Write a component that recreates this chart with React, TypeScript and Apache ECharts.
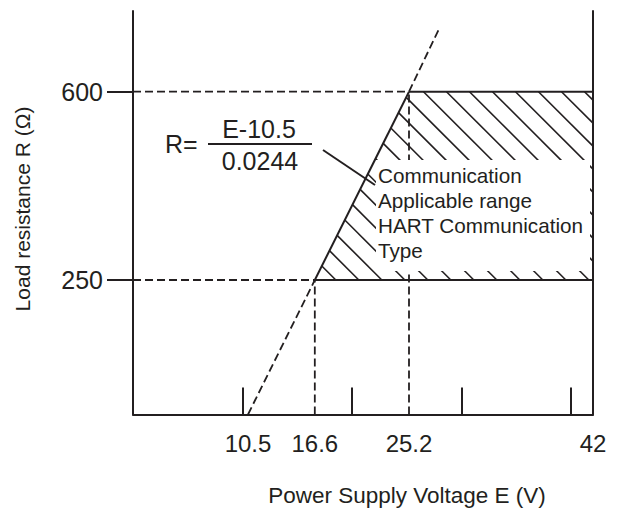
import React, { useEffect, useRef } from 'react';
import * as echarts from 'echarts';

const FONT = '"Liberation Sans", Arial, Helvetica, sans-serif';
const INK = '#231f20';

// axis ranges and tick marks
const xRange = [0, 42];
const yRange = [0, 750];
const xTickValues = [10, 20, 30, 40];
const xLabelValues = [10.5, 16.6, 25.2, 42];
const yTickValues = [250, 600];
const yLabelValues = [250, 600];

// R = (E - 10.5) / 0.0244 line, split into dashed / solid parts
const formulaLower = [[10.5, 0], [16.6, 250]];
const formulaSolid = [[16.6, 250], [25.2, 600]];
const formulaUpper = [[25.2, 600], [27.9, 715]];

// guide lines
const guide250H = [[0, 250], [16.6, 250]];
const guide600H = [[0, 600], [25.2, 600]];
const guide166V = [[16.6, 0], [16.6, 250]];
const guide252V = [[25.2, 0], [25.2, 600]];

// applicable range boundaries
const rangeBottom = [[16.6, 250], [42, 250]];
const rangeTop = [[25.2, 600], [42, 600]];
const rangeArea = [[16.6, 250], [25.2, 600], [42, 600], [42, 250]];

const annotationLines = ['Communication', 'Applicable range', 'HART Communication', 'Type'];

function lineSeries(data: number[][], dashed: boolean, width = 2) {
  return {
    type: 'line',
    data,
    showSymbol: false,
    symbol: 'none',
    silent: true,
    lineStyle: { color: INK, width, type: dashed ? [8, 4] : 'solid' },
    z: 3,
  };
}

export default function App() {
  const ref = useRef<HTMLDivElement>(null);
  useEffect(() => {
    if (!ref.current) return;
    const chart = echarts.init(ref.current, undefined, { renderer: 'svg' });
    const option: any = {
      animation: false,
      backgroundColor: '#ffffff',
      grid: { left: 133, top: 11, width: 460, height: 403.5, outerBoundsMode: 'none' },
      xAxis: {
        type: 'value',
        min: xRange[0],
        max: xRange[1],
        axisLine: { show: true, lineStyle: { color: INK, width: 2 } },
        axisTick: { show: true, inside: true, length: 27, customValues: xTickValues, lineStyle: { color: INK, width: 2 } },
        axisLabel: { customValues: xLabelValues, fontSize: 24, color: INK, fontFamily: FONT, margin: 17 },
        splitLine: { show: false },
      },
      yAxis: [
        {
          type: 'value',
          min: yRange[0],
          max: yRange[1],
          axisLine: { show: true, lineStyle: { color: INK, width: 2 } },
          axisTick: { show: true, inside: false, length: 26, customValues: yTickValues, lineStyle: { color: INK, width: 2 } },
          axisLabel: { customValues: yLabelValues, fontSize: 25, color: INK, fontFamily: FONT, margin: 30 },
          splitLine: { show: false },
        },
        {
          type: 'value',
          position: 'right',
          min: yRange[0],
          max: yRange[1],
          axisLine: { show: true, lineStyle: { color: INK, width: 2 } },
          axisTick: { show: false },
          axisLabel: { show: false },
          splitLine: { show: false },
        },
      ],
      series: [
        {
          type: 'custom',
          silent: true,
          z: 2,
          data: [rangeArea[0]],
          renderItem: (_params: any, api: any) => {
            const pts = rangeArea.map((p) => api.coord(p));
            const step = 23;
            const c0 = pts[0][0] - pts[0][1] + 21;
            const cs = pts.map((p) => p[0] - p[1]);
            const cmin = Math.min(...cs);
            const cmax = Math.max(...cs);
            const children: any[] = [];
            const k0 = Math.ceil((cmin - c0) / step);
            for (let c = c0 + k0 * step; c < cmax; c += step) {
              const hits: number[][] = [];
              for (let i = 0; i < pts.length; i++) {
                const P = pts[i];
                const Q = pts[(i + 1) % pts.length];
                const fP = P[0] - P[1] - c;
                const fQ = Q[0] - Q[1] - c;
                if ((fP <= 0 && fQ >= 0) || (fP >= 0 && fQ <= 0)) {
                  if (fP === fQ) continue;
                  const t = fP / (fP - fQ);
                  hits.push([P[0] + t * (Q[0] - P[0]), P[1] + t * (Q[1] - P[1])]);
                }
              }
              if (hits.length >= 2) {
                hits.sort((a, b) => a[1] - b[1]);
                const a = hits[0];
                const b = hits[hits.length - 1];
                children.push({
                  type: 'line',
                  shape: { x1: a[0], y1: a[1], x2: b[0], y2: b[1] },
                  style: { stroke: INK, lineWidth: 1.6 },
                });
              }
            }
            return { type: 'group', children };
          },
        },
        lineSeries(guide250H, true, 1.8),
        lineSeries(guide600H, true, 1.8),
        lineSeries(guide166V, true, 1.8),
        lineSeries(guide252V, true, 1.8),
        lineSeries(formulaLower, true, 1.8),
        lineSeries(formulaUpper, true, 1.8),
        lineSeries(formulaSolid, false, 2),
        lineSeries(rangeBottom, false, 2),
        lineSeries(rangeTop, false, 2),
      ],
      graphic: [
        {
          type: 'text',
          x: 0,
          y: -8.5,
          z: 100,
          style: { text: 'Relationship of Power Supply Voltage and Load Resistance', font: `17px ${FONT}`, fill: INK, align: 'left', verticalAlign: 'middle' },
        },
        {
          type: 'text',
          x: 165,
          y: 144,
          z: 100,
          style: { text: 'R=', font: `25px ${FONT}`, fill: INK, align: 'left', verticalAlign: 'middle' },
        },
        {
          type: 'text',
          x: 259,
          y: 129,
          z: 100,
          style: { text: 'E-10.5', font: `25px ${FONT}`, fill: INK, align: 'center', verticalAlign: 'middle' },
        },
        {
          type: 'line',
          z: 100,
          shape: { x1: 208, y1: 144, x2: 312, y2: 144 },
          style: { stroke: INK, lineWidth: 2 },
        },
        {
          type: 'text',
          x: 260,
          y: 161,
          z: 100,
          style: { text: '0.0244', font: `25px ${FONT}`, fill: INK, align: 'center', verticalAlign: 'middle' },
        },
        {
          type: 'line',
          z: 100,
          shape: { x1: 323, y1: 150, x2: 375, y2: 185 },
          style: { stroke: INK, lineWidth: 2 },
        },
        {
          type: 'rect',
          z: 99,
          shape: { x: 376, y: 160, width: 214, height: 111 },
          style: { fill: '#ffffff' },
        },
        ...annotationLines.map((t, i) => ({
          type: 'text',
          x: 378,
          y: 175 + i * 25.3,
          z: 100,
          style: { text: t, font: `20.7px ${FONT}`, fill: INK, align: 'left', verticalAlign: 'middle' },
        })),
        {
          type: 'text',
          x: 407,
          y: 495,
          z: 100,
          style: { text: 'Power Supply Voltage E (V)', font: `22.5px ${FONT}`, fill: INK, align: 'center', verticalAlign: 'middle' },
        },
        {
          type: 'text',
          x: 22,
          y: 209,
          rotation: Math.PI / 2,
          z: 100,
          style: { text: 'Load resistance R (Ω)', font: `21px ${FONT}`, fill: INK, align: 'center', verticalAlign: 'middle' },
        },
      ],
    };
    chart.setOption(option);
    return () => chart.dispose();
  }, []);
  return <div ref={ref} style={{ position: 'fixed', left: 0, top: 0, width: 619, height: 508 }} />;
}
